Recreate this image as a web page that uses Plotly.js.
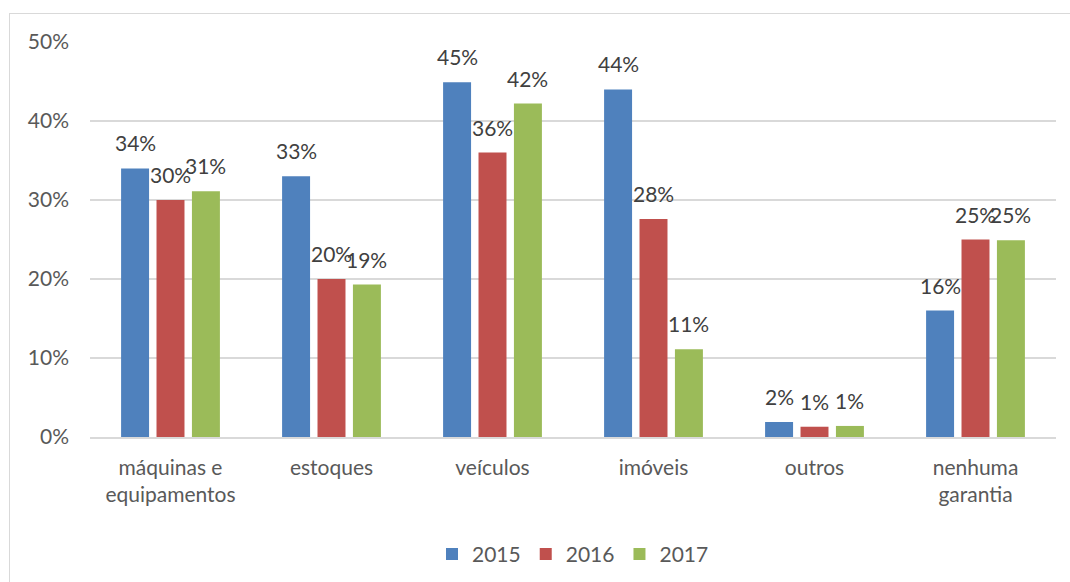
<!DOCTYPE html>
<html>
<head>
<meta charset="utf-8">
<script src="https://cdn.plot.ly/plotly-3.0.1.min.js"></script>
<style>
html,body{margin:0;padding:0;background:#fff;}
#wrap{position:relative;width:1070px;height:582px;overflow:hidden;}
#chart{width:1070px;height:582px;}
#border{position:absolute;left:9px;top:13px;width:1100px;height:600px;border-left:1px solid #d9d9d9;border-top:1px solid #d9d9d9;pointer-events:none;}
</style>
</head>
<body>
<div id="wrap"><div id="chart"></div><div id="border"></div></div>
<script>
const categories = ['máquinas e<br>equipamentos', 'estoques', 'veículos', 'imóveis', 'outros', 'nenhuma<br>garantia'];
const v2015 = [0.340, 0.330, 0.449, 0.440, 0.019, 0.160];
const v2016 = [0.300, 0.200, 0.360, 0.276, 0.013, 0.250];
const v2017 = [0.311, 0.193, 0.422, 0.111, 0.014, 0.249];
const seriesNames = ['2015', '2016', '2017'];
const colors = ['#4f81bd', '#c0504d', '#9bbb59'];

const font = 'Lato, "Open Sans", "Liberation Sans", sans-serif';
const allSeries = [v2015, v2016, v2017];
const data = allSeries.map((vals, i) => ({
  type: 'bar',
  name: seriesNames[i],
  x: categories,
  y: vals,
  marker: {color: colors[i]},
  hoverinfo: 'skip'
}));

// data labels as annotations (offset to each bar in the group)
const W = 1070, ML = 90, MR = 14;
const catW = (W - ML - MR) / categories.length;
const bargap = 0.34;
const slot = catW * (1 - bargap) / 3;
const annotations = [];
allSeries.forEach((vals, i) => {
  vals.forEach((v, j) => {
    annotations.push({
      x: categories[j], y: v, xref: 'x', yref: 'y',
      text: Math.round(v * 100) + '%',
      showarrow: false, yanchor: 'bottom', yshift: 11,
      xshift: (i - 1) * slot,
      font: {family: font, size: 21, color: '#404040'}
    });
  });
});

const layout = {
  width: W, height: 582,
  margin: {l: ML, r: MR, t: 42, b: 145, autoexpand: false},
  paper_bgcolor: '#fff', plot_bgcolor: '#fff',
  barmode: 'group', bargap: bargap, bargroupgap: 0.21,
  font: {family: font, size: 21, color: '#595959'},
  yaxis: {
    range: [0, 0.5], dtick: 0.1, tickformat: '.0%',
    gridcolor: '#d9d9d9', gridwidth: 1.5, zeroline: false,
    showline: false, ticks: '', ticklabelstandoff: 20, automargin: false,
    tickfont: {family: font, size: 21, color: '#595959'}
  },
  xaxis: {
    showline: true, linecolor: '#d9d9d9', linewidth: 1.5, automargin: false,
    ticks: '', tickfont: {family: font, size: 21, color: '#595959'},
    ticklabelstandoff: 11
  },
  annotations: annotations,
  showlegend: true,
  legend: {orientation: 'h', x: 0.5, xanchor: 'center', y: -0.245, yanchor: 'top',
    font: {family: font, size: 21, color: '#595959'}, traceorder: 'normal', itemwidth: 30},
};
Plotly.newPlot('chart', data, layout, {displayModeBar: false, staticPlot: true});
</script>
</body>
</html>
